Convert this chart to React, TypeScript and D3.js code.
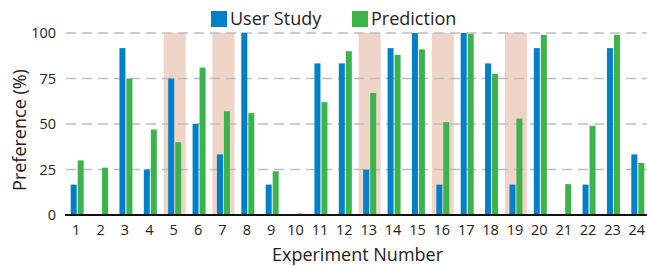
import * as d3 from 'd3';

const W = 647;
const H = 266;

const experiments = d3.range(1, 25).map(String);
const userStudy = [16.7, 0, 91.7, 25, 75, 50, 33.3, 100, 16.7, 0, 83.3, 83.3, 25, 91.7, 100, 16.7, 100, 83.3, 16.7, 91.7, 0, 16.7, 91.7, 33.3];
const prediction = [30, 26, 75, 47, 40, 81, 57, 56, 24, 0.8, 62, 90, 67, 88, 91, 51, 99.5, 77.5, 53, 99, 17, 49, 99, 28.6];
const highlighted = ['5', '7', '13', '16', '19'];
const yTicks = [0, 25, 50, 75, 100];

const BLUE = '#0080c8';
const GREEN = '#3cb44b';
const SHADE = '#f0d4c8';
const FONT = "'Open Sans', 'DejaVu Sans', sans-serif";

const App = () => {
  const x = d3.scaleBand().domain(experiments).range([65, 650]).padding(0);
  const y = d3.scaleLinear().domain([0, 100]).range([215, 33]);
  const barW = 6;
  const cx = (d) => x(d) + x.bandwidth() / 2;

  return (
    <svg
      width={W}
      height={H}
      style={{ position: 'absolute', left: 0, top: 0, background: '#fff', fontFamily: FONT }}
    >
      {/* highlighted experiments */}
      {highlighted.map((d) => (
        <rect key={'s' + d} x={cx(d) - 11} y={y(100)} width={22} height={y(0) - y(100)} fill={SHADE} />
      ))}

      {/* dashed grid */}
      {yTicks.filter((t) => t > 0).map((t) => (
        <line
          key={'g' + t}
          x1={66}
          x2={W}
          y1={y(t)}
          y2={y(t)}
          stroke="#bdbdbd"
          strokeWidth={1.5}
          strokeDasharray="10,6"
        />
      ))}

      {/* bars */}
      {experiments.map((d, i) => (
        <g key={'b' + d}>
          <rect x={cx(d) - 0.5 - barW} y={y(userStudy[i])} width={barW} height={y(0) - y(userStudy[i])} fill={BLUE} />
          <rect x={cx(d) + 0.5} y={y(prediction[i])} width={barW} height={y(0) - y(prediction[i])} fill={GREEN} />
        </g>
      ))}

      {/* baseline */}
      <line x1={65} x2={W} y1={y(0)} y2={y(0)} stroke="#111" strokeWidth={2} />

      {/* y tick labels */}
      {yTicks.map((t) => (
        <text key={'yt' + t} x={56} y={y(t)} dy="0.35em" textAnchor="end" fontSize={14.5} fill="#222">
          {t}
        </text>
      ))}

      {/* x tick labels */}
      {experiments.map((d) => (
        <text key={'xt' + d} x={cx(d) - 1} y={235} textAnchor="middle" fontSize={14.5} fill="#222">
          {d}
        </text>
      ))}

      {/* axis titles */}
      <text x={357.5} y={261} textAnchor="middle" fontSize={18} fill="#222">
        Experiment Number
      </text>
      <text transform="translate(26,130) rotate(-90)" textAnchor="middle" fontSize={18} fill="#222">
        Preference (%)
      </text>

      {/* legend */}
      <rect x={211} y={11} width={16} height={16} fill={BLUE} />
      <text x={230} y={25} fontSize={18} fill="#222">User Study</text>
      <rect x={352} y={11} width={16} height={16} fill={GREEN} />
      <text x={371} y={25} fontSize={18} fill="#222">Prediction</text>
    </svg>
  );
};

export default App;
